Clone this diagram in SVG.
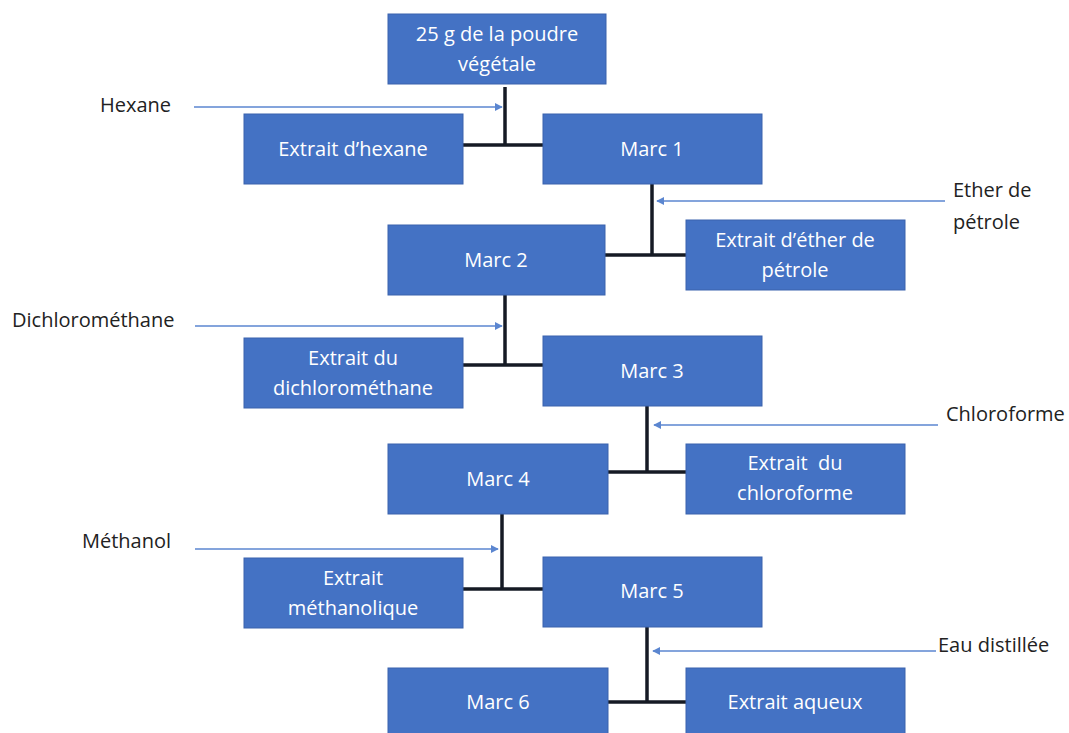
<svg xmlns="http://www.w3.org/2000/svg" width="1069" height="733" viewBox="0 0 1069 733">
<defs>
<style>
.box{fill:#4472C4;stroke:#3A63AD;stroke-width:1}
.bt{font-family:"Open Sans","Liberation Sans",sans-serif;font-size:20px;fill:#fff;text-anchor:middle}
.lb{font-family:"Open Sans","Liberation Sans",sans-serif;font-size:20px;fill:#222}
.k{stroke:#151a24;stroke-width:3.5;fill:none}
.a{stroke:#5B86D0;stroke-width:1.6;fill:none;marker-end:url(#ah)}
</style>
<marker id="ah" viewBox="0 0 10 10" refX="9" refY="5" markerWidth="5" markerHeight="5" orient="auto">
<path d="M0,0 L10,5 L0,10 z" fill="#5B86D0"/>
</marker>
</defs>
<rect width="1069" height="733" fill="#fff"/>
<g id="connectors">
<line class="k" x1="505" y1="87" x2="505" y2="145"/>
<line class="k" x1="462" y1="145" x2="544" y2="145"/>
<line class="k" x1="652" y1="183" x2="652" y2="255"/>
<line class="k" x1="604" y1="255" x2="688" y2="255"/>
<line class="k" x1="505" y1="290" x2="505" y2="365"/>
<line class="k" x1="462" y1="365" x2="544" y2="365"/>
<line class="k" x1="647" y1="405" x2="647" y2="472"/>
<line class="k" x1="605" y1="472" x2="688" y2="472"/>
<line class="k" x1="502" y1="512" x2="502" y2="589"/>
<line class="k" x1="462" y1="589" x2="544" y2="589"/>
<line class="k" x1="647" y1="626" x2="647" y2="702"/>
<line class="k" x1="605" y1="702" x2="688" y2="702"/>
<line class="a" x1="194" y1="107" x2="502" y2="107"/>
<line class="a" x1="945" y1="201" x2="657" y2="201"/>
<line class="a" x1="195" y1="326" x2="502" y2="326"/>
<line class="a" x1="938" y1="425" x2="654" y2="425"/>
<line class="a" x1="195" y1="549" x2="498" y2="549"/>
<line class="a" x1="936" y1="651" x2="653" y2="651"/>
</g>
<g id="n0"><rect class="box" x="388" y="14" width="218" height="70"/><text class="bt" x="497" y="41">25 g de la poudre</text><text class="bt" x="497" y="71">végétale</text></g>
<g id="hexane"><text class="lb" x="100" y="112">Hexane</text></g>
<g id="n1"><rect class="box" x="244" y="114" width="219" height="70"/><text class="bt" x="353" y="156">Extrait d’hexane</text></g>
<g id="n2"><rect class="box" x="543" y="114" width="219" height="70"/><text class="bt" x="652" y="156">Marc 1</text></g>
<g id="ether"><text class="lb" x="953" y="197">Ether de</text><text class="lb" x="953" y="229">pétrole</text></g>
<g id="n3"><rect class="box" x="388" y="225" width="217" height="70"/><text class="bt" x="496" y="267">Marc 2</text></g>
<g id="n4"><rect class="box" x="686" y="220" width="219" height="70"/><text class="bt" x="795" y="247">Extrait d’éther de</text><text class="bt" x="795" y="277">pétrole</text></g>
<g id="dcm"><text class="lb" x="12" y="327">Dichlorométhane</text></g>
<g id="n5"><rect class="box" x="244" y="338" width="219" height="70"/><text class="bt" x="353" y="365">Extrait du</text><text class="bt" x="353" y="395">dichlorométhane</text></g>
<g id="n6"><rect class="box" x="543" y="336" width="219" height="70"/><text class="bt" x="652" y="378">Marc 3</text></g>
<g id="chloro"><text class="lb" x="946" y="421">Chloroforme</text></g>
<g id="n7"><rect class="box" x="388" y="444" width="220" height="70"/><text class="bt" x="498" y="486">Marc 4</text></g>
<g id="n8"><rect class="box" x="686" y="444" width="219" height="70"/><text class="bt" x="795" y="470" style="white-space:pre">Extrait  du</text><text class="bt" x="795" y="500">chloroforme</text></g>
<g id="methanol"><text class="lb" x="82" y="548">Méthanol</text></g>
<g id="n9"><rect class="box" x="244" y="558" width="219" height="70"/><text class="bt" x="353" y="585">Extrait</text><text class="bt" x="353" y="615">méthanolique</text></g>
<g id="n10"><rect class="box" x="543" y="557" width="219" height="70"/><text class="bt" x="652" y="598">Marc 5</text></g>
<g id="eau"><text class="lb" x="938" y="652">Eau distillée</text></g>
<g id="n11"><rect class="box" x="388" y="668" width="220" height="80"/><text class="bt" x="498" y="709">Marc 6</text></g>
<g id="n12"><rect class="box" x="686" y="668" width="219" height="80"/><text class="bt" x="795" y="709">Extrait aqueux</text></g>
</svg>
